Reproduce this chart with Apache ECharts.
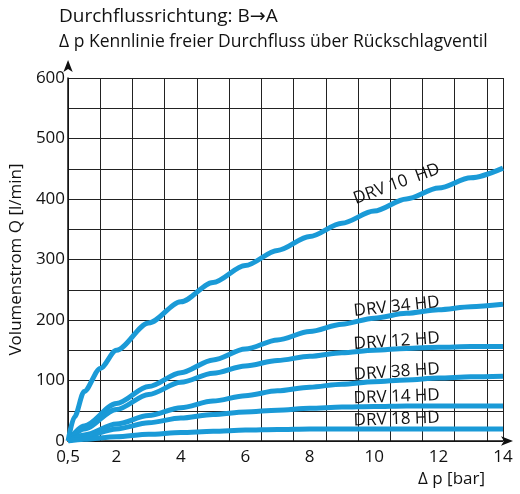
<!DOCTYPE html>
<html lang="de">
<head>
    <meta charset="UTF-8">
    <title>Durchflussrichtung</title>
    <style>
        body { margin: 0; background: #fff; }
        #chart { width: 520px; height: 494px; }
    </style>
</head>
<body>
    <div id="chart"></div>
    <script src="https://cdn.jsdelivr.net/npm/echarts@6/dist/echarts.min.js"></script>
    <script>
        // Δp [bar] / Q [l/min] pairs
        const drv10 = [[0.5, 0], [0.7, 40], [1, 82], [1.5, 120], [2, 150], [3, 195], [4, 230], [5, 262], [6, 290], [7, 315], [8, 338], [9, 360], [10, 380], [11, 400], [12, 418], [13, 435], [14, 451]];
        const drv34 = [[0.5, 0], [1, 25], [2, 62], [3, 90], [4, 113], [5, 134], [6, 152], [7, 167], [8, 181], [9, 193], [10, 203], [11, 211], [12, 217], [13, 222], [14, 226]];
        const drv12 = [[0.5, 0], [1, 20], [2, 52], [3, 77], [4, 97], [5, 112], [6, 124], [7, 133], [8, 140], [9, 146], [10, 150], [11, 153], [12, 155], [13, 156], [14, 156]];
        const drv38 = [[0.5, 0], [1, 10], [2, 28], [3, 42], [4, 55], [5, 66], [6, 75], [7, 83], [8, 89], [9, 94], [10, 98], [11, 101], [12, 104], [13, 106], [14, 107]];
        const drv14 = [[0.5, 0], [1, 8], [2, 20], [3, 30], [4, 38], [5, 44], [6, 48], [7, 51], [8, 54], [9, 56], [10, 57], [11, 58], [12, 58], [13, 58], [14, 58]];
        const drv18 = [[0.5, 0], [1, 3], [2, 7], [3, 11], [4, 14], [5, 16], [6, 18], [7, 19], [8, 20], [10, 20], [12, 20], [14, 20]];
        const xLabels = [0.5, 2, 4, 6, 8, 10, 12, 14];
        const curveNames = ['DRV 10  HD', 'DRV 34 HD', 'DRV 12 HD', 'DRV 38 HD', 'DRV 14 HD', 'DRV 18 HD'];
        // where each curve label sits (Δp, Q) and its tilt
        const labelSpots = [[10.7, 425, 20], [10.7, 222, 6], [10.7, 165, 4], [10.7, 114, 4], [10.7, 73, 2], [10.7, 36, 2]];

        const font = '"Open Sans", "DejaVu Sans", sans-serif';
        const blue = '#1a9ad7';
        const chart = echarts.init(document.getElementById('chart'));

        const series = [drv10, drv34, drv12, drv38, drv14, drv18].map((d, i) => ({
            type: 'line',
            data: d,
            smooth: 0.3,
            smoothMonotone: 'x',
            showSymbol: false,
            lineStyle: { color: blue, width: 5 },
            z: 3,
            markPoint: {
                symbol: 'circle',
                symbolSize: 1,
                itemStyle: { color: 'rgba(0,0,0,0)' },
                data: [{
                    coord: labelSpots[i].slice(0, 2),
                    label: {
                        show: true,
                        position: 'inside',
                        formatter: curveNames[i],
                        rotate: labelSpots[i][2],
                        color: '#111',
                        fontSize: 17,
                        fontFamily: font,
                    },
                }],
            },
        }));

        chart.setOption({
            animation: false,
            title: [
                { text: 'Durchflussrichtung: B→A', left: 54, top: 2, textStyle: { fontSize: 19, fontWeight: 500, fontFamily: font, color: '#111' } },
                { text: 'Δ p Kennlinie freier Durchfluss über Rückschlagventil', left: 54, top: 28, textStyle: { fontSize: 17.5, fontWeight: 'normal', fontFamily: font, color: '#111' } },
            ],
            grid: { left: 57, right: 17, top: 78, bottom: 53 },
            xAxis: {
                type: 'value',
                min: 0.5,
                max: 14,
                interval: 1,
                name: 'Δ p [bar]',
                nameLocation: 'end',
                nameGap: -85,
                nameTextStyle: { fontSize: 17, fontFamily: font, color: '#111', verticalAlign: 'top', padding: [30, 0, 0, 0] },
                axisLine: { lineStyle: { color: '#111', width: 1.5 }, symbol: ['none', 'arrow'], symbolSize: [7, 12], symbolOffset: [0, 10] },
                axisTick: { show: false },
                axisLabel: { customValues: xLabels, formatter: v => String(v).replace('.', ','), fontSize: 17, fontFamily: font, color: '#111', margin: 8 },
                splitLine: { show: true, lineStyle: { color: '#222', width: 1 } },
            },
            yAxis: {
                type: 'value',
                min: 0,
                max: 600,
                interval: 50,
                name: 'Volumenstrom Q [l/min]',
                nameLocation: 'middle',
                nameGap: 42,
                nameTextStyle: { fontSize: 17, fontFamily: font, color: '#111' },
                axisLine: { show: true, lineStyle: { color: '#111', width: 1.5 }, symbol: ['none', 'arrow'], symbolSize: [7, 12], symbolOffset: [0, 18] },
                axisTick: { show: false },
                axisLabel: { formatter: v => (v % 100 === 0 ? v : ''), fontSize: 17, fontFamily: font, color: '#111', margin: 3 },
                splitLine: { show: true, lineStyle: { color: '#222', width: 1 } },
            },
            series: series,
        });
    </script>
</body>
</html>
